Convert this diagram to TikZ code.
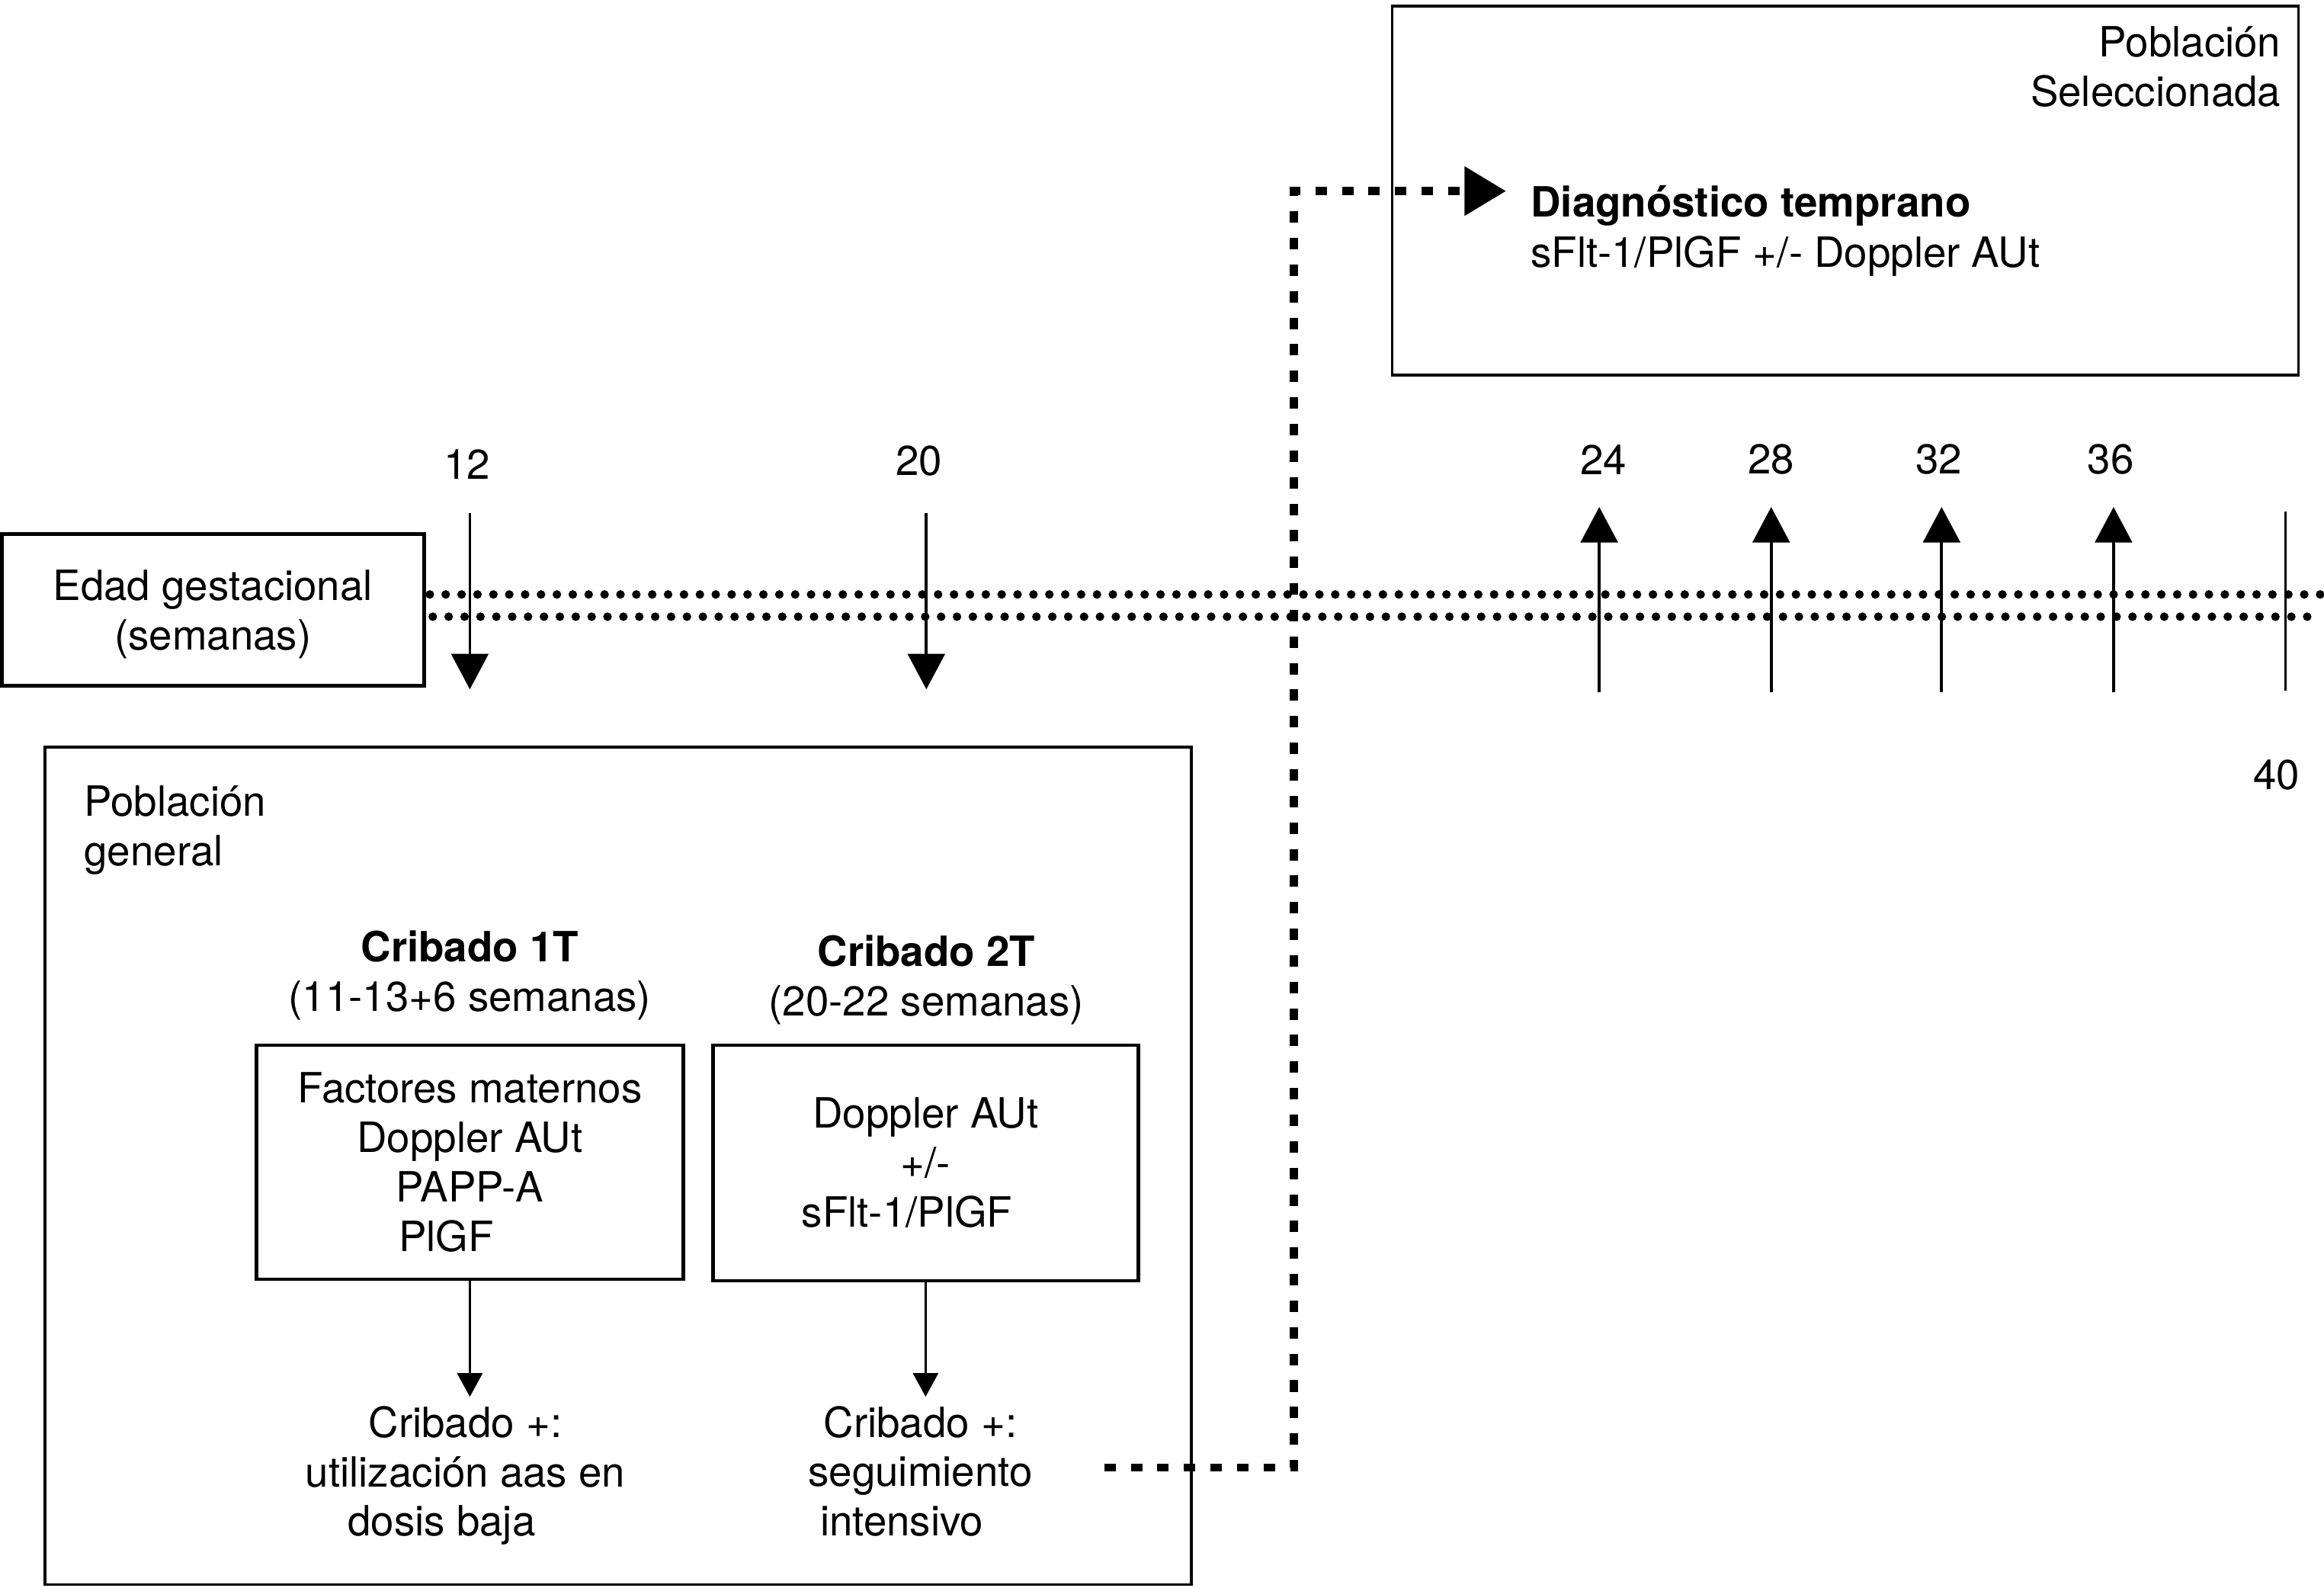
\documentclass[tikz,border=0pt]{standalone}
\usepackage{fontspec}
\setmainfont{TeX Gyre Heros}
\usetikzlibrary{arrows.meta}
\tikzset{
  box/.style={draw, line width=1.4pt, align=center},
  frame/.style={draw, line width=1.1pt},
  dots/.style={line width=3.3pt, line cap=round, dash pattern=on 0pt off 6.1pt},
  week/.style={line width=1.1pt, -{Triangle[width=0.5cm,length=0.48cm]}},
  result/.style={line width=0.9pt, -{Triangle[width=0.34cm,length=0.32cm]}},
  link/.style={line width=3.1pt, dash pattern=on 4.4pt off 5.8pt, -{Triangle[width=0.64cm,length=0.56cm]}, shorten >=0.21cm},
}
\begin{document}
\begin{tikzpicture}[x=0.02cm, y=-0.02cm, font=\fontsize{16pt}{19pt}\selectfont]
  \useasboundingbox (0,0) rectangle (1568,1071);
  % frames
  \node[frame, minimum width=12.23cm, minimum height=4.98cm] (sel) at (1245,128.5) {};
  \node[frame, minimum width=15.47cm, minimum height=11.3cm] (gen) at (417,786.5) {};
  \node[align=right, anchor=east] (seltxt) at (1545,45) {Población\\Seleccionada};
  \node[align=left, anchor=west] (gentxt) at (50.6,560) {Población\\general};
  \node[anchor=base west, text height=0.7cm, text depth=0cm] (diag) at (1026.6,146.4) {\bfseries Diagnóstico temprano};
  \node[anchor=base west] (diagtest) at (1026.6,180.4) {sFlt-1/PlGF +/- Doppler AUt};
  % timeline
  \node[box, minimum width=5.7cm, minimum height=2.05cm] (edad) at (143.6,411.5) {\rule{0pt}{0.53cm}Edad gestacional\\(semanas)};
  \coordinate (t1) at (290,401);
  \coordinate (t2) at (1566,401);
  \coordinate (t3) at (292,416);
  \coordinate (t4) at (1566,416);
  \draw[dots] (t1) -- (t2);
  \draw[dots] (t3) -- (t4);
  \node (w12) at (315,313) {12};
  \node (w20) at (620,311) {20};
  \node (w24) at (1082,310) {24};
  \node (w28) at (1195,310) {28};
  \node (w32) at (1308,310) {32};
  \node (w36) at (1424,310) {36};
  \node (w40) at (1536,523) {40};
  \coordinate (a12) at (317,346);
  \coordinate (b12) at (317,465);
  \coordinate (a20) at (625,346);
  \coordinate (b20) at (625,465);
  \coordinate (a24) at (1079,467);
  \coordinate (b24) at (1079,342);
  \coordinate (a28) at (1195,467);
  \coordinate (b28) at (1195,342);
  \coordinate (a32) at (1310,467);
  \coordinate (b32) at (1310,342);
  \coordinate (a36) at (1426,467);
  \coordinate (b36) at (1426,342);
  \coordinate (a40) at (1542,345);
  \coordinate (b40) at (1542,466);
  \draw[week] (a12) -- (b12);
  \draw[week] (a20) -- (b20);
  \draw[week] (a24) -- (b24);
  \draw[week] (a28) -- (b28);
  \draw[week] (a32) -- (b32);
  \draw[week] (a36) -- (b36);
  \draw[line width=1.1pt] (a40) -- (b40);
  % screening
  \node[align=center] (c1) at (317,658) {{\bfseries Cribado 1T}\\(11-13+6 semanas)};
  \node[align=center] (c2) at (625,661) {{\bfseries Cribado 2T}\\(20-22 semanas)};
  \node[box, minimum width=5.76cm, minimum height=3.16cm] (b1) at (317,784) {Factores maternos\\Doppler AUt\\PAPP-A\\PlGF\hspace*{0.64cm}};
  \node[box, minimum width=5.74cm, minimum height=3.18cm] (b2) at (624.5,784.5) {Doppler AUt\\+/-\\sFlt-1/PlGF\hspace*{0.5cm}};
  \node[align=center] (r1) at (314,995.4) {Cribado +:\\utilización aas en\\dosis baja\hspace*{0.64cm}};
  \node[align=center] (r2) at (621,992.5) {Cribado +:\\seguimiento\\intensivo\hspace*{0.5cm}};
  \draw[result] (b1.south) -- (b1.south |- r1.north);
  \draw[result] (b2.south) -- (b2.south |- r2.north);
  % follow-up
  \coordinate (d0) at (745,990);
  \coordinate (d1) at (873,990);
  \draw[link] (d0) -- (d1) -- (d1 |- diag.west) -- (diag.west);
\end{tikzpicture}
\end{document}
